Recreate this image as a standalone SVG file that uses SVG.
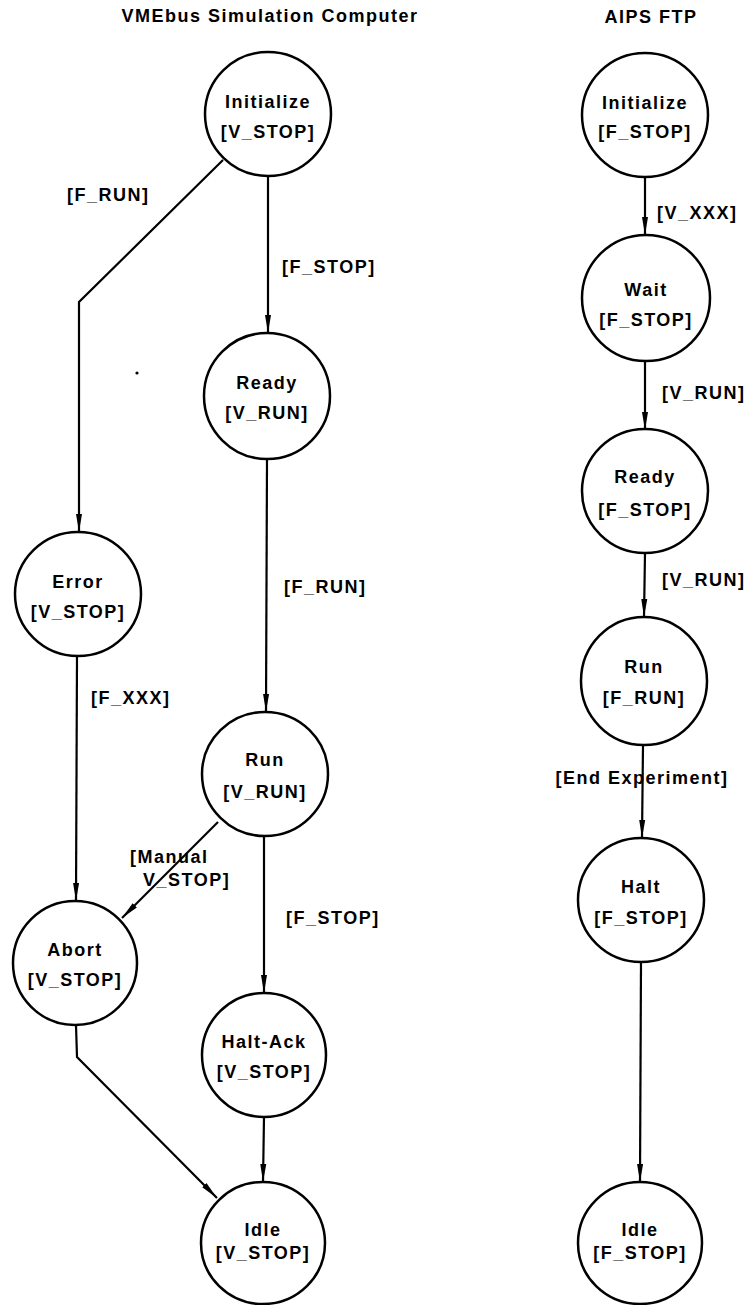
<svg xmlns="http://www.w3.org/2000/svg" width="754" height="1305" viewBox="0 0 754 1305">
<defs>
<marker id="arr" viewBox="0 0 18 7" refX="18" refY="3.5" markerWidth="18" markerHeight="7" markerUnits="userSpaceOnUse" orient="auto">
<path d="M0,0.5 L18,3.5 L0,6.5 Z" fill="#000"/>
</marker>
<style>
text{font-family:"Liberation Sans",Arial,sans-serif;font-weight:bold;font-size:18px;letter-spacing:1.5px;fill:#000}
.n text{text-anchor:middle}
.n ellipse{fill:#fff;stroke:#000;stroke-width:2.5}
.e path{fill:none;stroke:#000;stroke-width:2.2;marker-end:url(#arr)}
</style>
</defs>
<rect width="754" height="1305" fill="#fff"/>
<g id="titles">
<text x="270" y="22" text-anchor="middle">VMEbus Simulation Computer</text>
<text x="651" y="23" text-anchor="middle">AIPS FTP</text>
</g>
<g id="connectors" class="e">
<path d="M223,160 L79,302 L79,532"/>
<path d="M268,176 L268,333"/>
<path d="M267,459 L266,712"/>
<path d="M77,656 L76,901"/>
<path d="M218,822 L122,918"/>
<path d="M264,836 L264,993"/>
<path d="M264,1117 L263,1182"/>
<path d="M76,1025 L77,1057 L217,1198"/>
<path d="M645,177 L645,235"/>
<path d="M645,361 L645,430"/>
<path d="M645,553 L644,617"/>
<path d="M643,745 L642,838"/>
<path d="M641,962 L640,1182"/>
</g>
<g id="labels">
<text x="67" y="201">[F_RUN]</text>
<text x="282" y="273">[F_STOP]</text>
<text x="284" y="593">[F_RUN]</text>
<text x="91" y="704">[F_XXX]</text>
<text x="130" y="863">[Manual</text>
<text x="143" y="886">V_STOP]</text>
<text x="286" y="924">[F_STOP]</text>
<text x="657" y="219">[V_XXX]</text>
<text x="662" y="399">[V_RUN]</text>
<text x="662" y="586">[V_RUN]</text>
<text x="642" y="784" text-anchor="middle">[End Experiment]</text>
</g>
<circle cx="137" cy="373" r="1.6" fill="#000"/>
<g id="v-initialize" class="n"><ellipse cx="268" cy="114" rx="63" ry="62"/><text x="268" y="108">Initialize</text><text x="268" y="138">[V_STOP]</text></g>
<g id="v-ready" class="n"><ellipse cx="267" cy="396" rx="63" ry="63"/><text x="267" y="389">Ready</text><text x="267" y="419">[V_RUN]</text></g>
<g id="v-error" class="n"><ellipse cx="78" cy="594" rx="63" ry="62"/><text x="78" y="588">Error</text><text x="78" y="618">[V_STOP]</text></g>
<g id="v-run" class="n"><ellipse cx="265" cy="774" rx="63" ry="62"/><text x="265" y="766">Run</text><text x="265" y="798">[V_RUN]</text></g>
<g id="v-abort" class="n"><ellipse cx="75" cy="963" rx="62" ry="62"/><text x="75" y="956">Abort</text><text x="75" y="986">[V_STOP]</text></g>
<g id="v-haltack" class="n"><ellipse cx="264" cy="1055" rx="62" ry="62"/><text x="264" y="1048">Halt-Ack</text><text x="264" y="1078">[V_STOP]</text></g>
<g id="v-idle" class="n"><ellipse cx="263" cy="1243" rx="62" ry="61"/><text x="263" y="1236">Idle</text><text x="263" y="1259">[V_STOP]</text></g>
<g id="f-initialize" class="n"><ellipse cx="645" cy="115" rx="63" ry="62"/><text x="645" y="109">Initialize</text><text x="645" y="138">[F_STOP]</text></g>
<g id="f-wait" class="n"><ellipse cx="646" cy="298" rx="64" ry="63"/><text x="646" y="296">Wait</text><text x="646" y="326">[F_STOP]</text></g>
<g id="f-ready" class="n"><ellipse cx="645" cy="491" rx="63" ry="62"/><text x="645" y="483">Ready</text><text x="645" y="516">[F_STOP]</text></g>
<g id="f-run" class="n"><ellipse cx="644" cy="681" rx="63" ry="64"/><text x="644" y="673">Run</text><text x="644" y="704">[F_RUN]</text></g>
<g id="f-halt" class="n"><ellipse cx="641" cy="900" rx="63" ry="62"/><text x="641" y="893">Halt</text><text x="641" y="924">[F_STOP]</text></g>
<g id="f-idle" class="n"><ellipse cx="640" cy="1243" rx="62" ry="61"/><text x="640" y="1236">Idle</text><text x="640" y="1259">[F_STOP]</text></g>
</svg>
